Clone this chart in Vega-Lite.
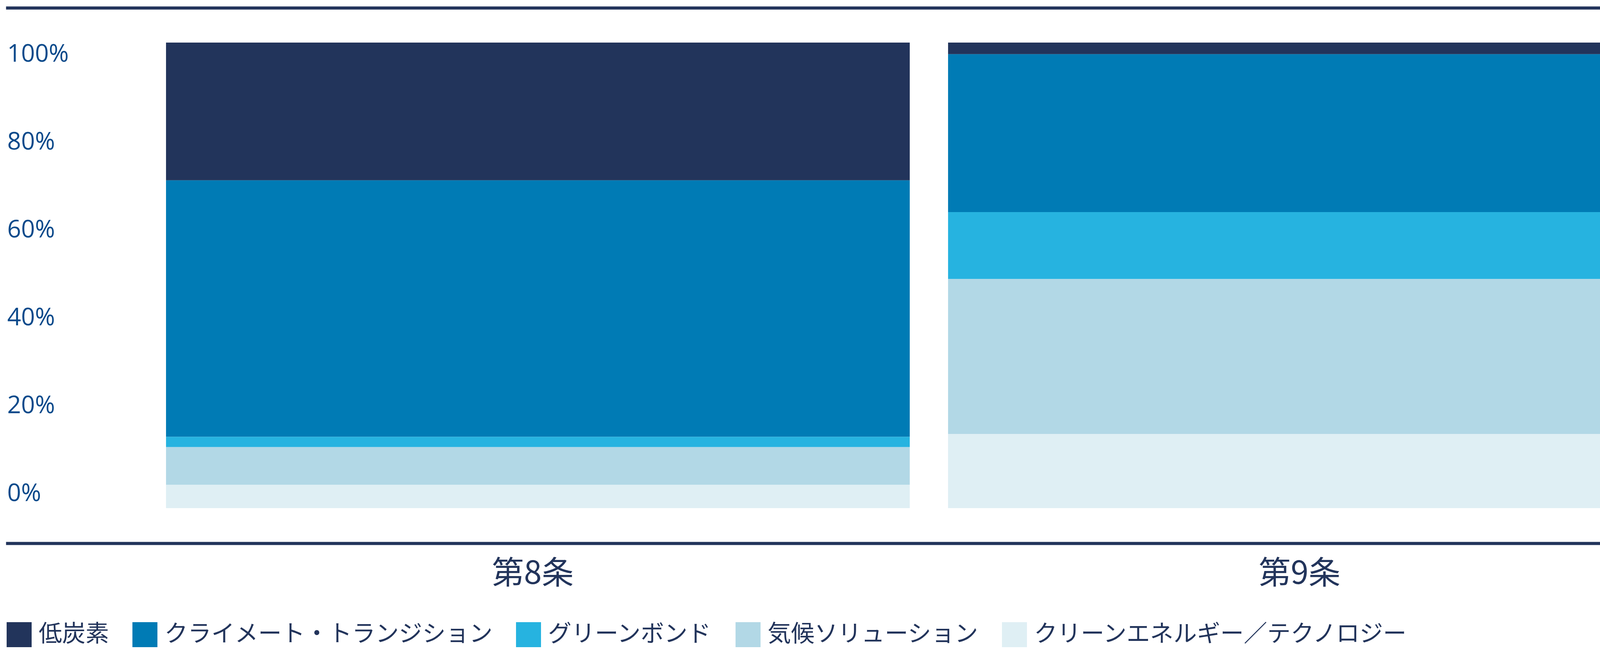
{
  "$schema": "https://vega.github.io/schema/vega-lite/v6.json",
  "autosize": {"type": "none"},
  "padding": {"left": 15, "top": 109, "right": 18, "bottom": 394},
  "width": 4316,
  "height": 1192,
  "background": "white",
  "config": {
    "view": {"stroke": null},
    "font": "Noto Sans CJK JP"
  },
  "data": {
    "values": [
      {"article": "第8条", "category": "低炭素", "share": 29.6},
      {"article": "第8条", "category": "クライメート・トランジション", "share": 55.1},
      {"article": "第8条", "category": "グリーンボンド", "share": 2.2},
      {"article": "第8条", "category": "気候ソリューション", "share": 8.1},
      {"article": "第8条", "category": "クリーンエネルギー／テクノロジー", "share": 5.0},
      {"article": "第9条", "category": "低炭素", "share": 2.5},
      {"article": "第9条", "category": "クライメート・トランジション", "share": 33.9},
      {"article": "第9条", "category": "グリーンボンド", "share": 14.4},
      {"article": "第9条", "category": "気候ソリューション", "share": 33.3},
      {"article": "第9条", "category": "クリーンエネルギー／テクノロジー", "share": 15.9}
    ]
  },
  "transform": [
    {
      "calculate": "indexof(['低炭素', 'クライメート・トランジション', 'グリーンボンド', '気候ソリューション', 'クリーンエネルギー／テクノロジー'], datum.category)",
      "as": "stack_order"
    }
  ],
  "layer": [
    {
      "mark": {"type": "bar"},
      "encoding": {
        "x": {
          "field": "article",
          "type": "nominal",
          "scale": {"paddingInner": 0.049, "paddingOuter": 0.1024, "align": 1},
          "axis": {
            "orient": "bottom",
            "title": null,
            "offset": 90,
            "domainWidth": 8,
            "domainColor": "#22345b",
            "ticks": false,
            "labelAngle": 0,
            "labelFont": "Noto Sans CJK JP",
            "labelFontSize": 82,
            "labelColor": "#22345b",
            "labelLimit": 1000,
            "labelPadding": 38,
            "labelOffset": {"expr": "datum.value === '第9条' ? -52 : -13"}
          }
        },
        "y": {
          "field": "share",
          "type": "quantitative",
          "stack": "normalize",
          "scale": {"domain": [0, 1], "nice": false},
          "axis": {
            "title": null,
            "values": [0, 0.2, 0.4, 0.6, 0.8, 1],
            "format": ".0%",
            "domain": false,
            "ticks": false,
            "grid": false,
            "labelAlign": "left",
            "labelBaseline": "middle",
            "labelPadding": -3,
            "labelFont": "Open Sans",
            "labelFontSize": 62,
            "labelColor": "#0b4a8b",
            "labelOffset": {"expr": "datum.value * 67 - 38"}
          }
        },
        "order": {"field": "stack_order", "type": "quantitative", "sort": "descending"},
        "color": {
          "field": "category",
          "type": "nominal",
          "sort": ["低炭素", "クライメート・トランジション", "グリーンボンド", "気候ソリューション", "クリーンエネルギー／テクノロジー"],
          "scale": {
            "domain": ["低炭素", "クライメート・トランジション", "グリーンボンド", "気候ソリューション", "クリーンエネルギー／テクノロジー"],
            "range": ["#22345b", "#007bb5", "#26b3e0", "#b2d8e6", "#dfeff4"]
          },
          "legend": {
            "orient": "none",
            "legendX": 2,
            "legendY": 1484,
            "direction": "horizontal",
            "columns": 5,
            "title": null,
            "padding": 0,
            "symbolType": "square",
            "symbolSize": 4096,
            "symbolStrokeWidth": 0,
            "symbolOpacity": 1,
            "labelFont": "Noto Sans CJK JP",
            "labelFontSize": 60,
            "labelColor": "#22345b",
            "labelOffset": 18,
            "labelLimit": 2000,
            "columnPadding": 60
          }
        }
      }
    },
    {
      "mark": {"type": "rule", "opacity": 0},
      "encoding": {
        "x": {
          "field": "article",
          "type": "nominal",
          "axis": {
            "orient": "top",
            "title": null,
            "offset": 89,
            "domainWidth": 8,
            "domainColor": "#22345b",
            "ticks": false,
            "labels": false
          }
        }
      }
    }
  ],
  "resolve": {"axis": {"x": "independent"}}
}
